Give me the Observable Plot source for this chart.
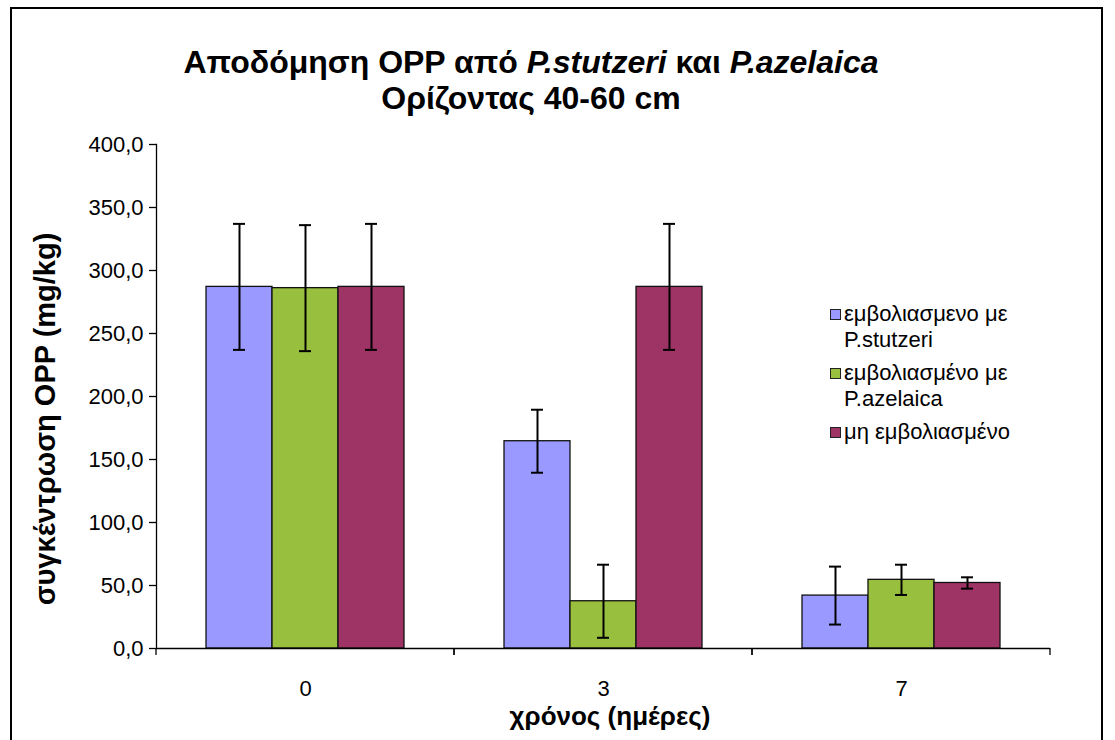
<!DOCTYPE html>
<html>
<head>
<meta charset="utf-8">
<script src="https://cdn.jsdelivr.net/npm/d3@7"></script>
<script src="https://cdn.jsdelivr.net/npm/@observablehq/plot@0.6"></script>
<style>
  body { margin: 0; background: #fff; font-family: "Liberation Sans", Arial, sans-serif; color: #000; }
  #wrap { position: relative; width: 1115px; height: 740px; overflow: hidden; background: #fff; }
  #border { position: absolute; left: 10px; top: 7px; width: 1093px; height: 780px; border: 2px solid #000; box-sizing: border-box; }
  #title { position: absolute; left: 0; top: 44px; width: 1062px; text-align: center; font-size: 32px; font-weight: bold; line-height: 36px; }
  #chart { position: absolute; left: 0; top: 120px; }
  #ylabel { position: absolute; left: 45px; top: 419px; transform: translate(-50%, -50%) rotate(-90deg); font-weight: bold; font-size: 29px; white-space: nowrap; line-height: 32px; }
  #xlabel { position: absolute; left: 610px; top: 700px; transform: translateX(-50%); font-weight: bold; font-size: 26px; white-space: nowrap; line-height: 32px; }
  #legend { position: absolute; left: 830px; top: 301px; font-size: 22px; line-height: 26px; }
  .entry { display: flex; align-items: flex-start; margin-bottom: 7px; }
  .sw { width: 9px; height: 9px; border: 1px solid #222; margin-top: 8px; margin-right: 3px; flex: none; }
</style>
</head>
<body>
<div id="wrap">
  <div id="border"></div>
  <div id="title">Αποδόμηση OPP από <i>P.stutzeri</i> και <i>P.azelaica</i><br>Ορίζοντας 40-60 cm</div>
  <div id="chart"></div>
  <div id="ylabel">συγκέντρωση OPP (mg/kg)</div>
  <div id="xlabel">χρόνος (ημέρες)</div>
  <div id="legend"></div>
</div>
<script>
// ---- data ----
const days = ["0", "3", "7"];
const legendLines = [["εμβολιασμενο με", "P.stutzeri"], ["εμβολιασμένο με", "P.azelaica"], ["μη εμβολιασμένο"]];
const series = legendLines.map(l => l.join(" "));
const colors = ["#9999FF", "#99BF3F", "#9E3366"];
const stutzeri = [287, 164.5, 42];
const azelaica = [286, 37.5, 54.5];
const control = [287, 287, 52];
const stutzeriErr = [50, 25, 23];
const azelaicaErr = [50, 29, 12];
const controlErr = [50, 50, 4.5];
const yTicks = [0, 50, 100, 150, 200, 250, 300, 350, 400];

const values = [stutzeri, azelaica, control];
const errs = [stutzeriErr, azelaicaErr, controlErr];
const rows = [];
days.forEach((day, i) => {
  series.forEach((s, j) => {
    rows.push({day, series: s, value: values[j][i], lo: values[j][i] - errs[j][i], hi: values[j][i] + errs[j][i]});
  });
});

function boundaryTicks(index, scales, vals, dimensions) {
  const {marginLeft, marginRight, width} = dimensions;
  const y0 = scales.y(0);
  const g = d3.create("svg:g").attr("stroke", "#000").attr("stroke-width", 1.3);
  [marginLeft, width - marginRight].forEach(x => {
    g.append("line").attr("x1", x).attr("x2", x).attr("y1", y0).attr("y2", y0 + 7);
  });
  return g.node();
}

const chart = Plot.plot({
  width: 1115,
  height: 620,
  marginLeft: 156,
  marginRight: 65,
  marginTop: 24,
  marginBottom: 92,
  style: {fontFamily: "'Liberation Sans', Arial, sans-serif", background: "transparent", color: "#000"},
  fx: {domain: days, padding: 0, axis: null},
  x: {domain: series, paddingInner: 0, paddingOuter: 0.757, axis: null},
  y: {domain: [0, 400], axis: null},
  color: {domain: series, range: colors},
  marks: [
    Plot.axisY({ticks: yTicks, tickFormat: d => d.toFixed(1).replace(".", ","), tickSize: 7, tickPadding: 6, fontSize: 22, label: null, strokeWidth: 1.3}),
    Plot.axisFx({anchor: "bottom", tickSize: 0, tickPadding: 32, fontSize: 22, label: null}),
    Plot.frame({anchor: "left", facetAnchor: "left", strokeWidth: 1.3}),
    Plot.barY(rows, {fx: "day", x: "series", y: "value", fill: "series", stroke: "#111", strokeWidth: 1.3}),
    Plot.ruleY([0], {strokeWidth: 1.3}),
    boundaryTicks,
    Plot.ruleX(rows, {fx: "day", x: "series", y1: "lo", y2: "hi", stroke: "#000", strokeWidth: 2}),
    Plot.tickY(rows, {fx: "day", x: "series", y: "lo", stroke: "#000", strokeWidth: 2, insetLeft: 27, insetRight: 27}),
    Plot.tickY(rows, {fx: "day", x: "series", y: "hi", stroke: "#000", strokeWidth: 2, insetLeft: 27, insetRight: 27})
  ]
});
document.getElementById("chart").appendChild(chart);

const legend = d3.select("#legend");
legendLines.forEach((lines, i) => {
  const e = legend.append("div").attr("class", "entry");
  e.append("div").attr("class", "sw").style("background", colors[i]);
  e.append("div").html(lines.join("<br>"));
});
</script>
</body>
</html>
